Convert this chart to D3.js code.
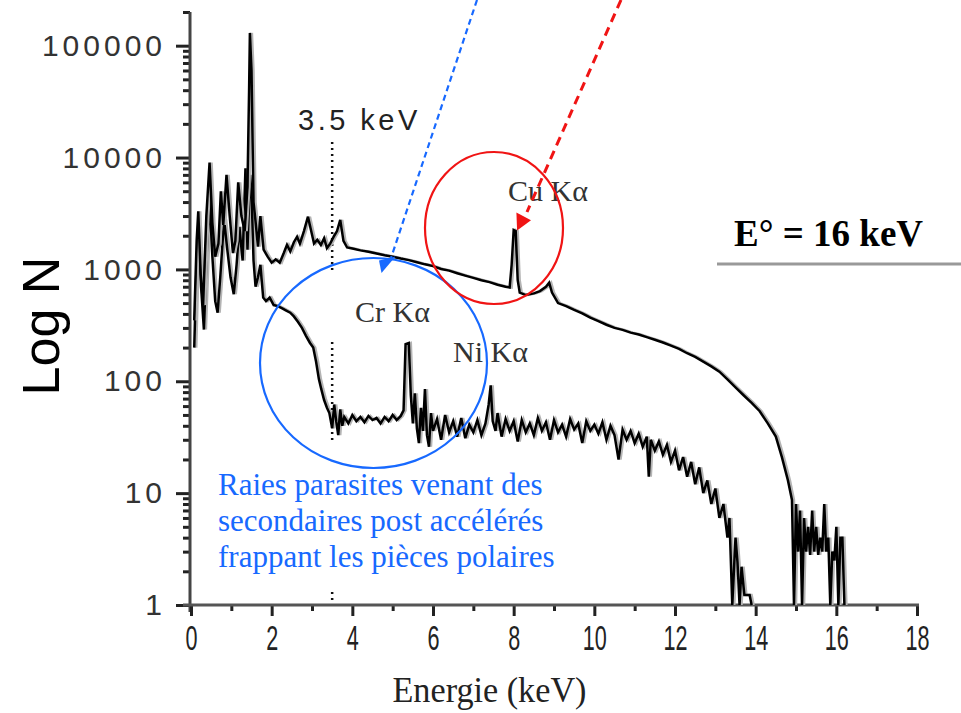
<!DOCTYPE html>
<html>
<head>
<meta charset="utf-8">
<script src="https://cdn.jsdelivr.net/npm/d3@7"></script>
<style>
body { margin: 0; background: #fff; }
</style>
</head>
<body>
<div id="chart"></div>
<script>
// tick values
var ticksX = [0, 2, 4, 6, 8, 10, 12, 14, 16, 18];
var minorX = [1, 3, 5, 7, 9, 11, 13, 15, 17];
var ticksY = [1, 10, 100, 1000, 10000, 100000];
var labelsY = ["1", "10", "100", "1000", "10000", "100000"];

// spectre du haut [energie keV, coups]
var spectreHaut = [
  [0.08,350],[0.14,1800],[0.18,3300],[0.24,900],[0.3,480],[0.38,3000],[0.46,9000],[0.53,2600],
  [0.6,1300],[0.68,1700],[0.74,5000],[0.8,2500],[0.88,7000],[0.96,3000],[1.04,1400],[1.1,1800],
  [1.17,6000],[1.25,3000],[1.33,2200],[1.4,5500],[1.44,40000],[1.46,130000],[1.5,60000],[1.55,4000],
  [1.6,2700],[1.66,1600],[1.72,3000],[1.8,1500],[1.9,1300],[2.0,1150],[2.1,1230],[2.2,1150],
  [2.3,1400],[2.38,1660],[2.46,1450],[2.55,1750],[2.63,1960],[2.7,1700],[2.8,2200],[2.9,2960],
  [2.98,2200],[3.05,1700],[3.13,1840],[3.22,1650],[3.3,1900],[3.37,1550],[3.45,1700],[3.55,2000],
  [3.62,2200],[3.7,2770],[3.78,1800],[3.87,1570],[4.0,1540],[4.2,1480],[4.4,1440],[4.6,1390],
  [4.8,1340],[5.0,1300],[5.2,1250],[5.4,1210],[5.6,1160],[5.8,1110],[6.0,1070],[6.2,1010],
  [6.4,975],[6.6,925],[6.8,880],[7.0,840],[7.2,800],[7.4,770],[7.6,730],[7.8,700],
  [7.9,690],[7.95,1100],[8.0,2250],[8.05,2200],[8.1,800],[8.15,620],[8.3,590],[8.5,610],
  [8.65,640],[8.8,700],[8.88,760],[8.95,620],[9.1,500],[9.3,470],[9.5,435],[9.7,405],
  [9.9,370],[10.1,345],[10.3,320],[10.5,300],[10.7,288],[10.9,272],[11.1,262],[11.3,248],
  [11.5,235],[11.7,222],[11.9,208],[12.1,195],[12.3,178],[12.5,165],[12.7,150],[12.9,136],
  [13.1,122],[13.3,104],[13.5,88],[13.7,75],[13.9,64],[14.1,54],[14.3,42],[14.5,32],
  [14.65,21],[14.8,13],[14.9,8.7],[14.95,1],[15.0,8],[15.05,3],[15.1,7],[15.15,1],
  [15.2,6],[15.25,3],[15.3,5],[15.35,2.8],[15.4,7],[15.45,3],[15.5,5],[15.55,2.8],
  [15.6,4],[15.65,3],[15.7,8],[15.75,3],[15.8,4],[15.85,1],[15.9,3],[15.95,2.5],
  [16.0,5],[16.05,1],[16.1,4],[16.15,4],[16.2,1]
];

// spectre du bas [energie keV, coups]
var spectreBas = [
  [0.08,200],[0.14,1200],[0.19,2600],[0.25,700],[0.32,290],[0.39,1400],[0.46,4200],[0.53,1300],
  [0.6,520],[0.66,410],[0.73,900],[0.82,2800],[0.9,1500],[0.98,850],[1.06,600],[1.13,1100],
  [1.2,2400],[1.28,1200],[1.35,8000],[1.4,1500],[1.46,7000],[1.5,5000],[1.55,1200],[1.6,700],
  [1.66,850],[1.72,1100],[1.79,560],[1.86,520],[1.95,560],[2.05,480],[2.15,470],[2.25,450],
  [2.35,430],[2.46,410],[2.55,380],[2.65,340],[2.75,300],[2.85,255],[2.95,220],[3.03,200],
  [3.1,150],[3.17,105],[3.23,85],[3.3,68],[3.37,58],[3.43,52],[3.5,38],[3.55,62],
  [3.6,44],[3.65,33],[3.7,56],[3.75,40],[3.8,48],[3.9,42],[4.0,50],[4.1,44],
  [4.2,48],[4.3,43],[4.4,49],[4.5,45],[4.6,47],[4.7,42],[4.8,48],[4.9,44],
  [5.0,50],[5.1,45],[5.2,49],[5.27,55],[5.32,215],[5.4,220],[5.45,75],[5.5,42],
  [5.55,78],[5.6,38],[5.65,28],[5.7,58],[5.75,36],[5.8,85],[5.85,33],[5.9,26],
  [5.95,52],[6.0,36],[6.1,46],[6.2,30],[6.3,50],[6.4,35],[6.5,44],[6.6,32],
  [6.7,47],[6.8,31],[6.9,41],[7.0,35],[7.1,45],[7.2,33],[7.3,42],[7.38,62],
  [7.43,92],[7.48,44],[7.55,36],[7.6,52],[7.7,32],[7.8,46],[7.9,36],[8.0,44],
  [8.1,29],[8.2,45],[8.3,35],[8.4,42],[8.5,33],[8.6,47],[8.7,36],[8.8,43],
  [8.9,30],[9.0,45],[9.1,35],[9.2,41],[9.3,32],[9.4,46],[9.5,37],[9.6,42],
  [9.7,28],[9.8,44],[9.9,36],[10.0,41],[10.1,34],[10.2,43],[10.3,30],[10.4,40],
  [10.5,33],[10.6,20],[10.7,37],[10.8,30],[10.9,36],[11.0,28],[11.1,34],[11.2,26],
  [11.3,32],[11.35,14],[11.4,30],[11.5,24],[11.6,29],[11.7,22],[11.8,27],[11.9,19],
  [12.0,24],[12.1,16],[12.2,21],[12.3,14],[12.4,19],[12.5,12],[12.6,17],[12.7,10],
  [12.8,13],[12.9,8],[13.0,11],[13.1,6],[13.2,8],[13.3,4],[13.35,6],[13.42,1],
  [13.5,4],[13.55,2.4],[13.6,1],[13.65,2.2],[13.72,1.23],[13.85,1.23],[13.9,1]
];

// annotations
var raies = ["Cu K\u03b1", "Cr K\u03b1", "Ni K\u03b1"];
var legende = ["Raies parasites venant des", "secondaires post acc\u00e9l\u00e9r\u00e9s", "frappant les pi\u00e8ces polaires"];
var titreE = "E\u00b0 = 16 keV";
var seuil = 3.5;

var W = 961, H = 713;
var blue = "#1769ff", red = "#f01414";

var svg = d3.select("#chart").append("svg")
    .attr("width", W)
    .attr("height", H);

var x = d3.scaleLinear().domain([0, 18]).range([191, 917]);
var y = d3.scaleLog().domain([1, 2e5]).range([605, 12]);

// minor ticks y
var minorY = [];
for (var k = 0; k < 5; k++) {
    for (var m = 2; m <= 9; m++) minorY.push(m * Math.pow(10, k));
}
minorY.push(2e5);

svg.append("g")
    .attr("transform", "translate(190,0)")
    .call(d3.axisLeft(y).tickValues(minorY).tickSize(7).tickSizeOuter(0).tickFormat(""))
    .call(function(g) { g.select(".domain").remove(); })
    .selectAll("line").attr("stroke", "#222").attr("stroke-width", 3);

var gy = svg.append("g")
    .attr("transform", "translate(190,0)")
    .call(d3.axisLeft(y).tickValues(ticksY).tickSize(14).tickSizeOuter(0).tickPadding(10)
        .tickFormat(function(d, i) { return labelsY[i]; }))
    .attr("font-family", "'Liberation Sans', Arial, sans-serif")
    .attr("font-size", 30);
gy.select(".domain").remove();
gy.selectAll("line").attr("stroke", "#222").attr("stroke-width", 3);
gy.selectAll("text").attr("fill", "#333").style("letter-spacing", "4px");

svg.append("line")
    .attr("x1", 190).attr("x2", 190)
    .attr("y1", 12).attr("y2", 612)
    .attr("stroke", "#444").attr("stroke-width", 3);

// x axis
svg.append("g")
    .attr("transform", "translate(0,605)")
    .call(d3.axisBottom(x).tickValues(minorX).tickSize(6).tickFormat(""))
    .call(function(g) { g.select(".domain").remove(); })
    .selectAll("line").attr("stroke", "#222").attr("stroke-width", 3);

var gx = svg.append("g")
    .attr("transform", "translate(0,605)")
    .call(d3.axisBottom(x).tickValues(ticksX).tickSize(11).tickSizeOuter(0).tickPadding(8))
    .attr("font-family", "'Liberation Sans', Arial, sans-serif")
    .attr("font-size", 36);
gx.select(".domain").remove();
gx.selectAll("line").attr("stroke", "#222").attr("stroke-width", 3);
gx.selectAll("text").attr("fill", "#222").attr("transform", "scale(0.6,1)");

svg.append("line")
    .attr("x1", 183).attr("x2", x(18) + 2)
    .attr("y1", 605).attr("y2", 605)
    .attr("stroke", "#555").attr("stroke-width", 3);

// axis titles
svg.append("text")
    .attr("transform", "translate(" + x(7.4) + ",702) scale(0.95,1)")
    .attr("text-anchor", "middle")
    .attr("font-family", "'Liberation Serif', 'Times New Roman', serif")
    .attr("font-size", 36)
    .attr("fill", "#222")
    .text("Energie (keV)");

svg.append("text")
    .attr("transform", "translate(59,326) rotate(-90)")
    .attr("text-anchor", "middle")
    .attr("font-family", "'Liberation Sans', Arial, sans-serif")
    .attr("font-size", 52)
    .attr("fill", "#000")
    .text("Log N");

// 3.5 keV marker
var xs = x(seuil);
[[142, 272], [342, 440], [592, 602]].forEach(function(s) {
    svg.append("line")
        .attr("x1", xs).attr("x2", xs)
        .attr("y1", s[0]).attr("y2", s[1])
        .attr("stroke", "#111").attr("stroke-width", 2.5)
        .attr("stroke-dasharray", "2,4");
});
svg.append("text")
    .attr("x", 298).attr("y", 130)
    .attr("font-family", "'Liberation Sans', Arial, sans-serif")
    .attr("font-size", 29)
    .attr("fill", "#222")
    .style("letter-spacing", "3.5px")
    .text(seuil + " keV");

// spectra
var line = d3.line()
    .x(function(d) { return x(d[0]); })
    .y(function(d) { return y(Math.max(1, d[1])); });

[spectreBas, spectreHaut].forEach(function(s) {
    svg.append("path")
        .datum(s)
        .attr("d", line)
        .attr("transform", "translate(2,0)")
        .attr("fill", "none")
        .attr("stroke", "#b4b4b4")
        .attr("stroke-width", 2.5);
    svg.append("path")
        .datum(s)
        .attr("d", line)
        .attr("fill", "none")
        .attr("stroke", "#000")
        .attr("stroke-width", 2.5)
        .attr("stroke-linejoin", "miter");
});

// line labels
var raiesPos = [[508, 201], [355, 322], [453, 362]];
raies.forEach(function(r, i) {
    svg.append("text")
        .attr("x", raiesPos[i][0]).attr("y", raiesPos[i][1])
        .attr("font-family", "'Liberation Serif', 'Times New Roman', serif")
        .attr("font-size", 30)
        .attr("fill", "#333")
        .text(r);
});

// E0 title
svg.append("text")
    .attr("x", 734).attr("y", 246)
    .attr("font-family", "'Liberation Serif', 'Times New Roman', serif")
    .attr("font-weight", "bold")
    .attr("font-size", 37)
    .attr("fill", "#000")
    .text(titreE);
svg.append("line")
    .attr("x1", 717).attr("x2", 961)
    .attr("y1", 264).attr("y2", 264)
    .attr("stroke", "#999").attr("stroke-width", 3);

// circles and arrows
svg.append("ellipse")
    .attr("cx", 373.5).attr("cy", 363).attr("rx", 113.5).attr("ry", 105)
    .attr("fill", "none").attr("stroke", blue).attr("stroke-width", 2.2);
svg.append("line")
    .attr("x1", 477).attr("y1", 0).attr("x2", 391).attr("y2", 258)
    .attr("stroke", blue).attr("stroke-width", 2.2).attr("stroke-dasharray", "6,4");
svg.append("polygon")
    .attr("points", "379,260.5 395.5,256.5 381.5,273")
    .attr("fill", blue);

svg.append("ellipse")
    .attr("cx", 494).attr("cy", 228).attr("rx", 69).attr("ry", 76)
    .attr("fill", "none").attr("stroke", red).attr("stroke-width", 2.2);
svg.append("line")
    .attr("x1", 621).attr("y1", 0).attr("x2", 527).attr("y2", 212)
    .attr("stroke", red).attr("stroke-width", 3).attr("stroke-dasharray", "9,6");
svg.append("polygon")
    .attr("points", "516.4,212.6 531,220.2 517.1,230.6")
    .attr("fill", red);

// blue note
legende.forEach(function(t, i) {
    svg.append("text")
        .attr("x", 218).attr("y", 495 + i * 36)
        .attr("font-family", "'Liberation Serif', 'Times New Roman', serif")
        .attr("font-size", 31)
        .attr("fill", blue)
        .text(t);
});
</script>
</body>
</html>
